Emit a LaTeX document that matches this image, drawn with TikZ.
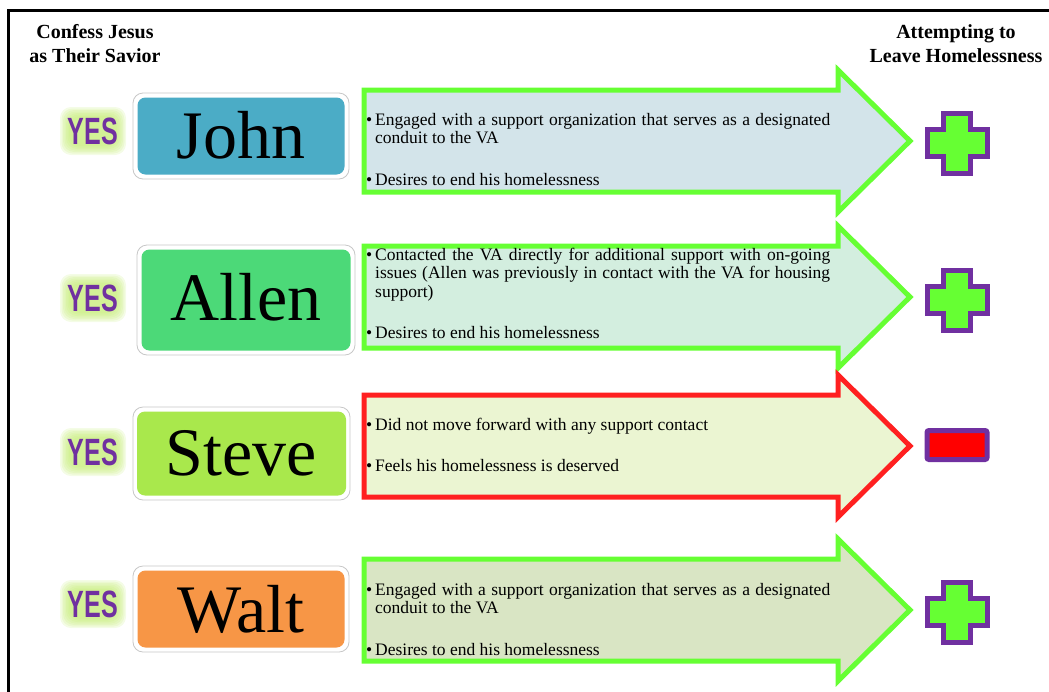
\documentclass[tikz,border=0pt]{standalone}
\usepackage{fontspec}
\setmainfont{Liberation Serif}
\newfontfamily\yesfont{Liberation Sans}
\usepackage{tikz}
\usetikzlibrary{positioning}
\definecolor{gogreen}{HTML}{66FF33}
\definecolor{stopred}{HTML}{FF2020}
\definecolor{markpurple}{HTML}{7030A0}
\definecolor{yesglow}{HTML}{C4EC74}
\definecolor{johncol}{HTML}{4BACC6}
\definecolor{allencol}{HTML}{4CD978}
\definecolor{stevecol}{HTML}{A9E84C}
\definecolor{waltcol}{HTML}{F79646}
\definecolor{johnpale}{HTML}{D3E4EA}
\definecolor{allenpale}{HTML}{D3EEDF}
\definecolor{stevepale}{HTML}{EBF5D2}
\definecolor{waltpale}{HTML}{D9E5C4}

% one bullet of an arrow's text
\newcommand{\keypoint}[1]{\noindent\hangindent=9pt\hangafter=1\hbox to 9pt{\textbullet\hfil}#1\par}
\newcommand{\pointgap}{\vskip 23pt}
% arrow body round a centre line y
\newcommand{\rowarrow}[2]{\draw[#1] (364,{#2-51}) -- (838,{#2-51}) -- (838,{#2-71}) -- (910,{#2}) -- (838,{#2+71}) -- (838,{#2+51}) -- (364,{#2+51}) -- cycle;}
\newcommand{\plusicon}[1]{\draw[plusmark, shift={(#1)}] (-13.5,-30) -- (13.5,-30) -- (13.5,-13.5) -- (30,-13.5) -- (30,13.5) -- (13.5,13.5) -- (13.5,30) -- (-13.5,30) -- (-13.5,13.5) -- (-30,13.5) -- (-30,-13.5) -- (-13.5,-13.5) -- cycle;}

\begin{document}
\begin{tikzpicture}[x=1pt, y=-1pt,
  header/.style={font=\bfseries\fontsize{20}{24}\selectfont, align=center, anchor=north, inner sep=0},
  glow/.style={fill=yesglow, fill opacity=0.18, rounded corners=11pt, inner sep=0},
  yes/.style={text=markpurple, inner sep=0, font=\yesfont\bfseries\fontsize{38}{38}\selectfont},
  namebox/.style={draw=black!22, line width=0.8pt, fill=white, rounded corners=10pt, inner sep=0},
  namefill/.style={rounded corners=8pt, inner sep=0},
  person/.style={anchor=base, inner sep=0, font=\fontsize{68}{68}\selectfont},
  go/.style={draw=gogreen, line width=5pt, line join=miter},
  stop/.style={draw=stopred, line width=5pt, line join=miter},
  points/.style={anchor=base west, inner sep=0, text width=464pt, align=justify, font=\fontsize{17.5}{18.5}\selectfont},
  plusmark/.style={draw=markpurple, fill=gogreen, line width=5pt},
  minusmark/.style={draw=markpurple, fill=red, line width=5pt, rounded corners=2pt, minimum width=60pt, minimum height=29pt, inner sep=0}
]
\useasboundingbox (0,0) rectangle (1049,691);
\clip (0,0) rectangle (1049,691);
\draw[line width=3pt] (8,10) rectangle (1080,720);

\node[header] (savior) at (95,24) {Confess Jesus\\as Their Savior};
\node[header] (leave) at (956,24) {Attempting to\\Leave Homelessness};

% John
\foreach \s in {0,...,6} \node[glow, minimum width=66-3*\s, minimum height=48-3*\s] at (93,131) {};
\node[yes] (yes1) at (93,131) {\scalebox{0.66}[1]{YES}};
\node[namebox, minimum width=216, minimum height=86] (johnbox) at (241,136) {};
\node[namefill, fill=johncol, minimum width=207, minimum height=77] (johnfill) at (johnbox) {};
\node[person] (john) at (241,158) {John};
\rowarrow{go, fill=johnpale}{141}
\node[points] (johntext) at (366,125) {%
  \keypoint{Engaged with a support organization that serves as a designated\linebreak conduit to the VA}\pointgap
  \keypoint{Desires to end his homelessness}};
\plusicon{957,143}

% Allen
\foreach \s in {0,...,6} \node[glow, minimum width=66-3*\s, minimum height=48-3*\s] at (93,298) {};
\node[yes] (yes2) at (93,298) {\scalebox{0.66}[1]{YES}};
\node[namebox, minimum width=218, minimum height=110] (allenbox) at (246,300) {};
\node[namefill, fill=allencol, minimum width=209, minimum height=101] (allenfill) at (allenbox) {};
\node[person] (allen) at (246,320) {Allen};
\rowarrow{go, fill=allenpale}{297}
\node[points] (allentext) at (366,260) {%
  \keypoint{Contacted the VA directly for additional support with on-going\linebreak issues (Allen was previously in contact with the VA for housing\linebreak support)}\pointgap
  \keypoint{Desires to end his homelessness}};
\plusicon{957,300}

% Steve
\foreach \s in {0,...,6} \node[glow, minimum width=66-3*\s, minimum height=48-3*\s] at (93,452) {};
\node[yes] (yes3) at (93,452) {\scalebox{0.66}[1]{YES}};
\node[namebox, minimum width=217, minimum height=93] (stevebox) at (241.5,453.5) {};
\node[namefill, fill=stevecol, minimum width=209, minimum height=84] (stevefill) at (stevebox) {};
\node[person] (steve) at (241.5,475) {Steve};
\rowarrow{stop, fill=stevepale}{446}
\node[points] (stevetext) at (366,430) {%
  \keypoint{Did not move forward with any support contact}\pointgap
  \keypoint{Feels his homelessness is deserved}};
\node[minusmark] (stevemark) at (957,445) {};

% Walt
\foreach \s in {0,...,6} \node[glow, minimum width=66-3*\s, minimum height=48-3*\s] at (93,604) {};
\node[yes] (yes4) at (93,604) {\scalebox{0.66}[1]{YES}};
\node[namebox, minimum width=216, minimum height=86] (waltbox) at (241,609) {};
\node[namefill, fill=waltcol, minimum width=207, minimum height=77] (waltfill) at (waltbox) {};
\node[person] (walt) at (241,632) {Walt};
\rowarrow{go, fill=waltpale}{610}
\node[points] (walttext) at (366,595) {%
  \keypoint{Engaged with a support organization that serves as a designated\linebreak conduit to the VA}\pointgap
  \keypoint{Desires to end his homelessness}};
\plusicon{957,612}
\end{tikzpicture}
\end{document}
